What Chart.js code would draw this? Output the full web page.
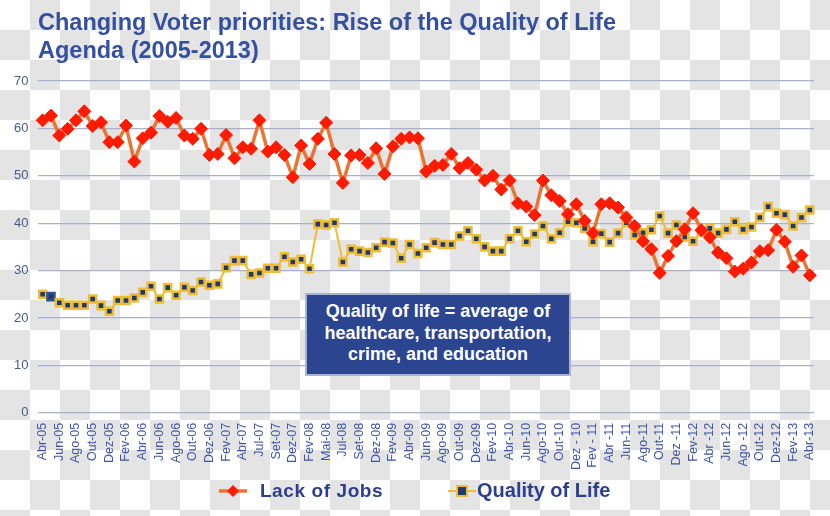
<!DOCTYPE html>
<html>
<head>
<meta charset="utf-8">
<script src="https://cdn.jsdelivr.net/npm/chart.js@4.4.1/dist/chart.umd.min.js"></script>
<style>
  html, body { margin: 0; padding: 0; }
  body {
    width: 830px; height: 516px; overflow: hidden; position: relative;
    background: repeating-conic-gradient(#e4e4e4 0 25%, #ffffff 0 50%) 0 0 / 60px 60px;
    font-family: "Liberation Sans", Arial, sans-serif;
  }
  #wrap { position: absolute; left: 0; top: 0; width: 830px; height: 516px; }
  #title {
    position: absolute; left: 38px; top: 8px; color: #34509e;
    font-weight: bold; font-size: 23.5px; line-height: 28px;
  }
  #note {
    position: absolute; left: 305px; top: 293px; width: 266px; height: 83px;
    background: #2b4591; border: 2px solid #a9b3d0; box-sizing: border-box;
    color: #fff; font-weight: bold; font-size: 18px; line-height: 21.5px;
    text-align: center; padding-top: 6px;
  }
  .leg { position: absolute; font-weight: bold; color: #2c3f8e; white-space: nowrap; }
  .leg span { vertical-align: middle; }
</style>
</head>
<body>
<div id="wrap"><canvas id="chart" width="830" height="516"></canvas></div>
<div id="title">Changing Voter priorities: Rise of the Quality of Life<br>Agenda (2005-2013)</div>
<div id="note">Quality of life = average of<br>healthcare, transportation,<br>crime, and education</div>
<div class="leg" style="left:218px;top:479px;font-size:19px;letter-spacing:0.6px;">
  <canvas id="legJobs" width="30" height="20" style="vertical-align:middle"></canvas>
  <span style="margin-left:6px">Lack of Jobs</span>
</div>
<div class="leg" style="left:447px;top:478px;font-size:20px;">
  <canvas id="legQol" width="30" height="20" style="vertical-align:middle"></canvas><span>Quality of Life</span>
</div>
<script>
// valores (93 pesquisas, 2005-2013)
const tickLabels = ["Abr-05", "Jun-05", "Ago-05", "Out-05", "Dez-05", "Fev-06", "Abr-06", "Jun-06", "Ago-06", "Out-06",
  "Dez-06", "Fev-07", "Abr-07", "Jul-07", "Set-07", "Dez-07", "Fev-08", "Mai-08", "Jul-08", "Set-08",
  "Dez-08", "Fev-09", "Abr-09", "Jun-09", "Ago-09", "Out-09", "Dez-09", "Fev-10", "Abr-10", "Jun-10",
  "Ago-10", "Out-10", "Dez - 10", "Fev - 11", "Abr -11", "Jun-11", "Ago-11", "Out-11", "Dez -11", "Fev-12",
  "Abr -12", "Jun-12", "Ago -12", "Out-12", "Dez-12", "Fev-13", "Abr-13"];

const lackOfJobs = [61.7, 62.7, 58.5, 59.9, 61.7, 63.6, 60.5, 61.3, 57.1, 57.1,
  60.6, 53.0, 57.9, 59.1, 62.6, 61.4, 62.2, 58.5, 57.8, 59.9,
  54.4, 54.6, 58.6, 53.7, 56.0, 55.7, 61.7, 55.1, 56.0, 54.4,
  49.7, 56.4, 52.5, 57.8, 61.2, 54.6, 48.5, 54.3, 54.4, 52.7,
  55.8, 50.4, 56.2, 57.8, 58.1, 57.9, 50.9, 52.1, 52.3, 54.6,
  51.6, 52.7, 51.3, 49.0, 50.0, 47.1, 49.0, 44.2, 43.5, 41.7,
  49.0, 45.9, 44.7, 41.9, 44.0, 40.5, 37.9, 44.0, 44.2, 43.3,
  41.2, 39.4, 36.2, 34.5, 29.5, 33.1, 36.2, 38.7, 42.1, 38.5,
  37.0, 33.8, 32.6, 29.8, 30.4, 31.7, 34.1, 34.3, 38.6, 36.1,
  30.8, 33.2, 29.0];

const qualityOfLife = [25.0, 24.5, 23.2, 22.7, 22.7, 22.7, 24.0, 22.6, 21.4, 23.7,
  23.7, 24.2, 25.4, 26.7, 24.0, 26.4, 24.8, 26.5, 25.8, 27.6,
  26.9, 27.2, 30.6, 32.1, 32.1, 29.2, 29.5, 30.5, 30.5, 32.9,
  31.8, 32.4, 30.4, 39.8, 39.6, 40.1, 31.8, 34.5, 34.1, 33.8,
  34.8, 36.0, 35.8, 32.6, 35.5, 33.6, 34.8, 35.9, 35.5, 35.5,
  37.3, 38.4, 36.7, 35.0, 34.1, 34.1, 36.7, 38.4, 36.1, 37.7,
  39.4, 36.7, 38.0, 40.3, 40.1, 38.9, 36.1, 37.8, 36.0, 37.9,
  40.1, 37.5, 38.0, 38.6, 41.5, 37.9, 39.6, 37.1, 36.2, 38.2,
  38.9, 37.9, 38.7, 40.3, 38.7, 39.2, 41.2, 43.5, 42.1, 41.8,
  39.4, 41.2, 42.8];

// um rótulo a cada duas pesquisas
const categories = lackOfJobs.map((v, i) => (i % 2 === 0 ? tickLabels[i / 2] : ""));

const jobsLine = "#ea7433";
const jobsPoint = "#ff1a00";
const qolLine = "#eebd35";
const qolPoint = "#1f3a72";

const qolBorders = qualityOfLife.map((v, i) => (i === 1 ? "#2f4f9e" : qolLine));

const ctx = document.getElementById("chart").getContext("2d");

new Chart(ctx, {
  type: "line",
  data: {
    labels: categories,
    datasets: [
      {
        label: "Lack of Jobs",
        data: lackOfJobs,
        borderColor: jobsLine,
        borderWidth: 3.5,
        tension: 0,
        pointStyle: "rectRot",
        pointRadius: 6.5,
        pointBackgroundColor: jobsPoint,
        pointBorderColor: jobsPoint,
        pointBorderWidth: 1,
      },
      {
        label: "Quality of Life",
        data: qualityOfLife,
        borderColor: qolLine,
        borderWidth: 2,
        tension: 0,
        pointStyle: "rect",
        pointRadius: 5,
        pointBackgroundColor: qolPoint,
        pointBorderColor: qolBorders,
        pointBorderWidth: 2.5,
      },
    ],
  },
  options: {
    responsive: false,
    animation: false,
    layout: { padding: { left: 4, right: 16, bottom: 44, top: 81 } },
    plugins: {
      legend: { display: false },
      tooltip: { enabled: false },
    },
    scales: {
      x: {
        offset: true,
        grid: { display: false },
        border: { display: false },
        ticks: {
          autoSkip: false,
          maxRotation: 90,
          minRotation: 90,
          padding: 2,
          color: "#3d55a8",
          font: { family: "Liberation Sans", size: 12.5 },
        },
      },
      y: {
        min: 0,
        max: 70,
        border: { display: false },
        grid: { color: "#aab0cc", lineWidth: 1.3, drawTicks: false },
        ticks: {
          stepSize: 10,
          padding: 10,
          color: "#4b5a88",
          font: { family: "Liberation Sans", size: 13 },
        },
      },
    },
  },
});

// legenda com linha + marcador
const drawLeg = (id, line, lw, draw) => {
  const c = document.getElementById(id).getContext("2d");
  c.strokeStyle = line;
  c.lineWidth = lw;
  c.beginPath();
  c.moveTo(1, 10);
  c.lineTo(29, 10);
  c.stroke();
  draw(c);
};
drawLeg("legJobs", jobsLine, 3.5, (c) => {
  c.fillStyle = jobsPoint;
  c.beginPath();
  c.moveTo(15, 4);
  c.lineTo(21, 10);
  c.lineTo(15, 16);
  c.lineTo(9, 10);
  c.closePath();
  c.fill();
});
drawLeg("legQol", qolLine, 2, (c) => {
  c.fillStyle = qolPoint;
  c.strokeStyle = qolLine;
  c.lineWidth = 2;
  c.fillRect(10, 5, 10, 10);
  c.strokeRect(10, 5, 10, 10);
});
</script>
</body>
</html>
